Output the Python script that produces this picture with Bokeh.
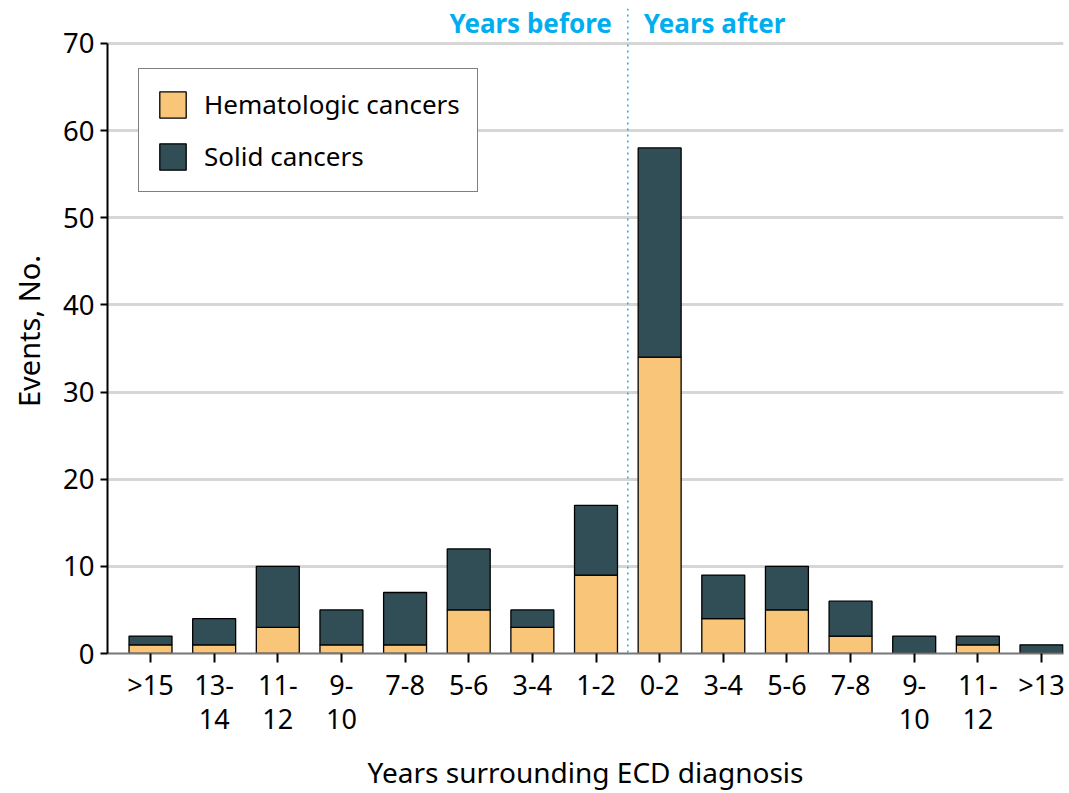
from bokeh.plotting import figure
from bokeh.models import ColumnDataSource, FixedTicker, Span, Label, Legend
from bokeh.embed import file_html
from bokeh.resources import INLINE

categories = [">15", "13-\n14", "11-\n12", "9-\n10", "7-8", "5-6", "3-4", "1-2",
              "0-2", "3-4", "5-6", "7-8", "9-\n10", "11-\n12", ">13"]
hematologic = [1, 1, 3, 1, 1, 5, 3, 9, 34, 4, 5, 2, 0, 1, 0]
solid = [1, 3, 7, 4, 6, 7, 2, 8, 24, 5, 5, 4, 2, 1, 1]
y_ticks = [0, 10, 20, 30, 40, 50, 60, 70]

FONT = "Noto Sans"

xpos = list(range(len(categories)))
source = ColumnDataSource(dict(x=xpos, heme=hematologic, solid=solid))

p = figure(width=1068, height=793, output_backend="svg", toolbar_location=None,
           x_range=(-0.676, 14.346), y_range=(0, 74),
           min_border_left=107, min_border_right=5, min_border_top=8, min_border_bottom=139)
p.outline_line_color = None
p.background_fill_color = "white"

renderers = p.vbar_stack(["heme", "solid"], x="x", width=0.675, source=source,
                         color=["#f8c579", "#314d55"], line_color="black", line_width=1.3)

# axes
p.xaxis.ticker = FixedTicker(ticks=xpos)
p.xaxis.major_label_overrides = {i: c for i, c in enumerate(categories)}
p.xaxis.axis_line_color = "#777777"
p.xaxis.axis_line_width = 2
p.xaxis.major_tick_line_color = "black"
p.xaxis.major_tick_line_width = 2
p.xaxis.major_tick_out = 9
p.xaxis.major_tick_in = 0
p.xaxis.minor_tick_line_color = None
p.xaxis.major_label_text_font = FONT
p.xaxis.major_label_text_font_size = "27px"
p.xaxis.major_label_text_color = "black"
p.xaxis.major_label_text_line_height = 0.92
p.xaxis.major_label_standoff = 3
p.xaxis.axis_label = "Years surrounding ECD diagnosis"
p.xaxis.axis_label_text_font = FONT
p.xaxis.axis_label_text_font_size = "28px"
p.xaxis.axis_label_text_font_style = "normal"
p.xaxis.axis_label_text_color = "black"
p.xaxis.axis_label_standoff = 13

p.yaxis.ticker = FixedTicker(ticks=y_ticks)
p.yaxis.bounds = (0, 70)
p.yaxis.axis_line_color = "black"
p.yaxis.axis_line_width = 2
p.yaxis.major_tick_line_color = "black"
p.yaxis.major_tick_line_width = 2
p.yaxis.major_tick_out = 7
p.yaxis.major_tick_in = 0
p.yaxis.minor_tick_line_color = None
p.yaxis.major_label_text_font = FONT
p.yaxis.major_label_text_font_size = "27.5px"
p.yaxis.major_label_text_color = "black"
p.yaxis.major_label_standoff = 6
p.yaxis.axis_label = "Events, No."
p.yaxis.axis_label_text_font = FONT
p.yaxis.axis_label_text_font_size = "29px"
p.yaxis.axis_label_text_font_style = "normal"
p.yaxis.axis_label_text_color = "black"
p.yaxis.axis_label_standoff = 12

p.xgrid.grid_line_color = None
p.ygrid.ticker = FixedTicker(ticks=y_ticks[1:])
p.ygrid.grid_line_color = "#d6d6d6"
p.ygrid.grid_line_width = 3
p.ygrid.level = "underlay"

# divider
p.add_layout(Span(location=7.5, dimension="height", line_color="#2aa7d9",
                  line_width=1.5, line_dash="2 4"))
p.add_layout(Label(x=7.5, y=72.3, x_offset=-16, text="Years before", text_align="right",
                   text_baseline="middle", text_color="#00aeef", text_font=FONT,
                   text_font_size="26px", text_font_style="bold"))
p.add_layout(Label(x=7.5, y=72.3, x_offset=16, text="Years after", text_align="left",
                   text_baseline="middle", text_color="#00aeef", text_font=FONT,
                   text_font_size="26px", text_font_style="bold"))

legend = Legend(items=[("Hematologic cancers", [renderers[0]]), ("Solid cancers", [renderers[1]])],
                location=(31, 461), margin=0, padding=17, spacing=16,
                glyph_width=33, glyph_height=33, label_height=33, label_standoff=15,
                label_text_font=FONT, label_text_font_size="26px", label_text_color="black",
                border_line_color="black", border_line_width=1.3,
                background_fill_alpha=1)
p.add_layout(legend)

open("out.html", "w").write(file_html(p, INLINE))
